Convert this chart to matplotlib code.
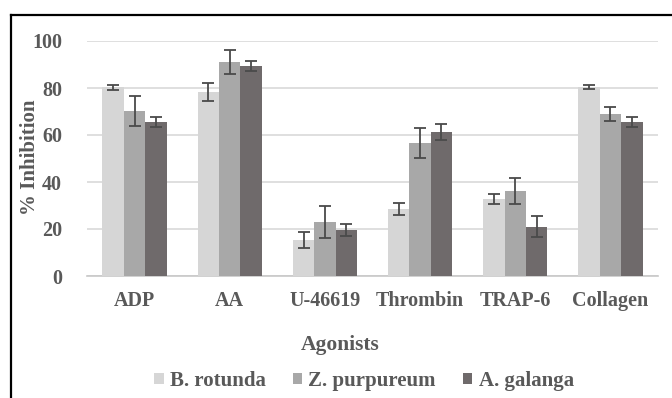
import numpy as np
import matplotlib
matplotlib.use('Agg')
import matplotlib.pyplot as plt
from matplotlib.lines import Line2D

plt.rcParams['font.family'] = ['Liberation Serif', 'DejaVu Serif']
plt.rcParams['font.weight'] = 'bold'

# 数据
agonists = ['ADP', 'AA', 'U-46619', 'Thrombin', 'TRAP-6', 'Collagen']
series = ['B. rotunda', 'Z. purpureum', 'A. galanga']
b_rotunda = [80.3, 78.3, 15.3, 28.5, 32.8, 80.4]
b_rotunda_err = [1.0, 3.8, 3.5, 2.5, 2.0, 1.0]
z_purpureum = [70.2, 91.0, 23.0, 56.6, 36.2, 69.0]
z_purpureum_err = [6.3, 5.0, 7.0, 6.5, 5.5, 3.0]
a_galanga = [65.5, 89.4, 19.6, 61.3, 20.9, 65.5]
a_galanga_err = [2.0, 2.2, 2.5, 3.5, 4.5, 2.0]

colors = ['#d6d6d6', '#a8a8a8', '#6f6a6b']
text_color = '#595959'

fig = plt.figure(figsize=(6.72, 3.98), dpi=100)
ax = fig.add_axes([87 / 672, 1 - 276 / 398, 571 / 672, 235 / 398])

x = np.arange(len(agonists))
width = 0.225
vals = [b_rotunda, z_purpureum, a_galanga]
errs = [b_rotunda_err, z_purpureum_err, a_galanga_err]
for i in range(3):
    ax.bar(x + (i - 1) * width, vals[i], width, yerr=errs[i], color=colors[i],
           label=series[i], capsize=4,
           error_kw=dict(ecolor='#4a4a4a', elinewidth=1.3, capthick=1.3),
           zorder=3)

ax.set_xlim(-0.5, len(agonists) - 0.5)
ax.set_ylim(0, 100)
ax.set_yticks(range(0, 101, 20))
ax.set_xticks(x)
ax.set_xticklabels(agonists)
ax.yaxis.grid(True, color='#d9d9d9', linewidth=1.2, zorder=0)
ax.set_axisbelow(True)
for s in ['top', 'right', 'left']:
    ax.spines[s].set_visible(False)
ax.spines['bottom'].set_color('#c8c8c8')
ax.spines['bottom'].set_linewidth(1.2)
ax.tick_params(axis='both', length=0, colors=text_color, labelsize=14.5)
ax.tick_params(axis='x', pad=11)
ax.tick_params(axis='y', pad=18)
for lab in ax.get_xticklabels() + ax.get_yticklabels():
    lab.set_fontweight('bold')

fig.text(30 / 672, 1 - 157 / 398, '% Inhibition', rotation=90, ha='center', va='center',
         fontsize=15, color=text_color, fontweight='bold')
fig.text(340 / 672, 1 - 345 / 398, 'Agonists', ha='center', va='center',
         fontsize=15.5, color=text_color, fontweight='bold')

fig.legend(loc='center', bbox_to_anchor=(364 / 672, 1 - 381 / 398), ncol=3,
           frameon=False, handlelength=0.45, handleheight=0.45, handletextpad=0.3,
           columnspacing=1.3, labelcolor=text_color,
           prop=dict(family='Liberation Serif', weight='bold', size=15))

# 外框
fig.add_artist(Line2D([11 / 672, 1.0], [1 - 15 / 398, 1 - 15 / 398],
                      color='black', linewidth=1.6, transform=fig.transFigure))
fig.add_artist(Line2D([11 / 672, 11 / 672], [0.0, 1 - 15 / 398],
                      color='black', linewidth=1.6, transform=fig.transFigure))

fig.savefig('out.png', dpi=100)
